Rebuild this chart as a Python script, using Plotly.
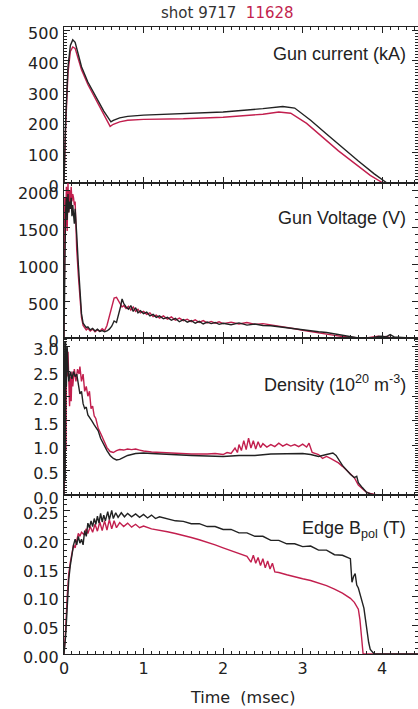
import plotly.graph_objects as go

# ---------------- data ----------------
cur_t_9717 = [0, 0.02, 0.05, 0.08, 0.11, 0.14, 0.18, 0.22, 0.3, 0.4, 0.5, 0.59, 0.62, 0.7, 0.8, 1.0, 1.5, 2.0, 2.5, 2.75, 2.9, 3.1, 3.3, 3.5, 3.7, 3.9, 4.06, 4.45]
cur_v_9717 = [0, 200, 380, 450, 468, 460, 420, 380, 330, 280, 235, 200, 205, 213, 218, 222, 226, 232, 243, 250, 245, 205, 160, 115, 72, 30, 0, 0]
cur_t_11628 = [0, 0.02, 0.05, 0.08, 0.11, 0.14, 0.18, 0.22, 0.3, 0.4, 0.5, 0.58, 0.62, 0.7, 0.8, 1.0, 1.5, 2.0, 2.5, 2.7, 2.85, 3.05, 3.25, 3.45, 3.65, 3.85, 4.01, 4.45]
cur_v_11628 = [0, 180, 360, 430, 445, 440, 405, 370, 322, 272, 225, 185, 192, 200, 205, 208, 210, 215, 225, 232, 228, 195, 150, 105, 65, 25, 0, 0]

vol_t = [0, 0.005, 0.01, 0.02, 0.03, 0.04, 0.05, 0.06, 0.07, 0.08, 0.09, 0.1, 0.11, 0.12, 0.13, 0.14, 0.15, 0.16, 0.18, 0.2,
         0.22, 0.24, 0.26, 0.28, 0.3, 0.33, 0.36, 0.39, 0.42, 0.45, 0.48, 0.51, 0.54, 0.57, 0.6, 0.63, 0.66, 0.69, 0.71, 0.73,
         0.75, 0.78, 0.81, 0.84, 0.87, 0.9, 0.93, 0.96, 1.0, 1.04, 1.08, 1.12, 1.16, 1.2, 1.25, 1.3, 1.35, 1.4, 1.45, 1.5,
         1.55, 1.6, 1.65, 1.7, 1.75, 1.8, 1.85, 1.9, 1.95, 2.0, 2.1, 2.2, 2.3, 2.4, 2.5, 2.6, 2.7, 2.8, 2.9, 3.0,
         3.1, 3.2, 3.3, 3.4, 3.5, 3.6, 3.65, 3.7, 3.8, 3.9, 3.95, 4.0, 4.05, 4.1, 4.15, 4.2, 4.3, 4.45]
vol_9717 = [0, 650, 1200, 1700, 1900, 1600, 1950, 1700, 1850, 1750, 1900, 1650, 1800, 1700, 1550, 1750, 1600, 1400, 1000, 600,
            330, 200, 160, 140, 150, 110, 130, 95, 120, 90, 100, 85, 95, 120, 160, 230, 210, 320, 420, 530,
            470, 420, 390, 440, 360, 410, 340, 370, 330, 350, 300, 320, 280, 300, 260, 280, 240, 265, 220, 250,
            215, 235, 200, 225, 190, 215, 195, 210, 185, 200, 180, 205, 175, 190, 170, 165, 150, 135, 120, 110,
            100, 85, 75, 55, 40, 20, 8, 0, 0, 5, 20, 25, 15, 45, 15, 10, 5, 0]
vol_11628 = [0, 1400, 1900, 1500, 2050, 1450, 2100, 1700, 2000, 1800, 2050, 1850, 1950, 1900, 1800, 1850, 1500, 1200, 850, 500,
             280, 170, 140, 110, 130, 95, 120, 85, 110, 90, 125, 100, 170, 300, 430, 540, 550, 500, 460, 420,
             440, 400, 430, 380, 420, 360, 390, 340, 360, 320, 340, 290, 310, 270, 300, 255, 285, 240, 270, 235,
             255, 220, 245, 210, 235, 205, 225, 200, 220, 195, 215, 190, 210, 185, 195, 175, 160, 145, 125, 105,
             85, 70, 55, 35, 20, 5, 0, 0, 0, 10, 25, 15, 20, 5, 0, 0, 0, 0]

den_t_9717 = [0, 0.01, 0.015, 0.02, 0.03, 0.04, 0.05, 0.06, 0.08, 0.1, 0.12, 0.14, 0.16, 0.18, 0.2, 0.22, 0.24, 0.26, 0.28, 0.3,
              0.32, 0.35, 0.38, 0.4, 0.43, 0.46, 0.5, 0.54, 0.58, 0.62, 0.66, 0.7, 0.75, 0.8, 0.9, 1.0, 1.1, 1.2, 1.4, 1.6,
              1.8, 2.0, 2.2, 2.4, 2.6, 2.8, 3.0, 3.1, 3.2, 3.3, 3.38, 3.42, 3.5, 3.6, 3.65, 3.68, 3.7, 3.75, 3.8, 3.85, 3.9, 4.45]
den_v_9717 = [0, 3.1, 0.3, 3.1, 2.2, 3.0, 2.6, 2.3, 2.5, 2.35, 2.5, 2.4, 2.45, 2.2, 2.05, 2.1, 1.85, 1.75, 1.78, 1.62,
              1.58, 1.5, 1.42, 1.38, 1.3, 1.15, 1.02, 0.9, 0.8, 0.74, 0.71, 0.72, 0.76, 0.8, 0.84, 0.85, 0.84, 0.83, 0.81, 0.8,
              0.79, 0.78, 0.8, 0.8, 0.83, 0.84, 0.84, 0.82, 0.78, 0.82, 0.85, 0.8, 0.6, 0.42, 0.35, 0.38, 0.25, 0.15, 0.06, 0.02, 0, 0]
den_t_11628 = [0, 0.01, 0.02, 0.025, 0.03, 0.04, 0.05, 0.06, 0.07, 0.08, 0.09, 0.1, 0.11, 0.13, 0.15, 0.17, 0.19, 0.2, 0.22, 0.24,
               0.26, 0.28, 0.3, 0.32, 0.34, 0.36, 0.38, 0.4, 0.43, 0.46, 0.5, 0.54, 0.58, 0.62, 0.66, 0.7, 0.75, 0.8, 0.85, 0.9,
               0.95, 1.0, 1.1, 1.2, 1.4, 1.6, 1.8, 1.9, 2.0, 2.05, 2.1, 2.15, 2.18, 2.2, 2.23, 2.26, 2.29, 2.32, 2.35, 2.38,
               2.41, 2.44, 2.47, 2.5, 2.55, 2.6, 2.65, 2.7, 2.75, 2.8, 2.85, 2.9, 2.95, 3.0, 3.05, 3.08, 3.12, 3.2, 3.25, 3.3,
               3.35, 3.4, 3.45, 3.5, 3.55, 3.6, 3.65, 3.7, 3.75, 3.8, 3.85, 3.94, 4.45]
den_v_11628 = [0, 0.5, 1.6, 0.9, 2.7, 2.4, 2.9, 2.2, 1.8, 2.4, 1.9, 2.5, 2.2, 2.55, 2.3, 2.55, 2.45, 2.6, 2.3, 2.45,
               2.1, 2.2, 2.0, 2.1, 1.75, 1.8, 1.6, 1.55, 1.35, 1.25, 1.1, 0.96, 0.88, 0.86, 0.9, 0.92, 0.91, 0.93, 0.92, 0.93,
               0.91, 0.89, 0.87, 0.86, 0.84, 0.83, 0.83, 0.84, 0.82, 0.86, 0.84, 0.95, 0.86, 1.02, 0.9, 1.1, 0.92, 1.15, 0.95, 1.1,
               0.93, 1.08, 0.96, 1.04, 0.97, 1.02, 0.98, 1.05, 0.99, 1.03, 0.99, 1.02, 0.98, 1.03, 0.97, 1.05, 0.86, 0.82, 0.74, 0.78,
               0.74, 0.7, 0.65, 0.58, 0.5, 0.42, 0.35, 0.2, 0.12, 0.06, 0.03, 0, 0]

bp_t_9717 = [0, 0.02, 0.04, 0.06, 0.08, 0.1, 0.12, 0.14, 0.16, 0.18, 0.2, 0.22, 0.24, 0.26, 0.28, 0.3, 0.32, 0.34, 0.36, 0.38,
             0.4, 0.42, 0.44, 0.46, 0.48, 0.5, 0.52, 0.55, 0.57, 0.6, 0.62, 0.65, 0.68, 0.72, 0.76, 0.8, 0.85, 0.9, 0.95, 1.0,
             1.05, 1.1, 1.15, 1.2, 1.3, 1.4, 1.5, 1.6, 1.7, 1.8, 1.9, 2.0, 2.1, 2.2, 2.3, 2.4, 2.5, 2.6, 2.7, 2.8,
             2.9, 3.0, 3.1, 3.2, 3.3, 3.4, 3.5, 3.58, 3.6, 3.62, 3.64, 3.66, 3.68, 3.7, 3.72, 3.75, 3.77, 3.79, 3.81, 3.83,
             3.85, 3.9, 4.45]
bp_v_9717 = [0, 0.03, 0.08, 0.13, 0.155, 0.175, 0.19, 0.2, 0.19, 0.205, 0.193, 0.2, 0.19, 0.215, 0.205, 0.228, 0.22, 0.232, 0.222, 0.236,
             0.226, 0.24, 0.228, 0.245, 0.23, 0.242, 0.232, 0.248, 0.234, 0.25, 0.236, 0.246, 0.238, 0.246, 0.239, 0.245, 0.239, 0.244, 0.238, 0.243,
             0.237, 0.242, 0.236, 0.239, 0.236, 0.232, 0.231, 0.227, 0.227, 0.222, 0.222, 0.217, 0.217, 0.211, 0.211, 0.205, 0.205, 0.198, 0.198, 0.192,
             0.192, 0.187, 0.188, 0.181, 0.181, 0.173, 0.172, 0.167, 0.166, 0.125, 0.135, 0.14, 0.12, 0.115, 0.105, 0.09, 0.08, 0.06, 0.035, 0.02,
             0.008, 0, 0]
bp_t_11628 = [0, 0.02, 0.04, 0.06, 0.08, 0.1, 0.12, 0.14, 0.16, 0.18, 0.2, 0.22, 0.25, 0.28, 0.3, 0.33, 0.36, 0.39, 0.42, 0.45,
              0.48, 0.51, 0.54, 0.57, 0.6, 0.63, 0.66, 0.7, 0.75, 0.8, 0.85, 0.9, 0.95, 1.0, 1.1, 1.2, 1.3, 1.4, 1.5, 1.6,
              1.7, 1.8, 1.9, 2.0, 2.1, 2.2, 2.3, 2.35, 2.38, 2.41, 2.44, 2.47, 2.5, 2.53, 2.56, 2.59, 2.62, 2.65, 2.7, 2.8,
              2.9, 3.0, 3.1, 3.2, 3.3, 3.4, 3.5, 3.6, 3.65, 3.7, 3.72, 3.74, 3.76, 4.45]
bp_v_11628 = [0, 0.04, 0.1, 0.14, 0.16, 0.175, 0.19, 0.185, 0.2, 0.21, 0.205, 0.212, 0.208, 0.218, 0.21, 0.222, 0.212, 0.226, 0.214, 0.23,
              0.215, 0.232, 0.216, 0.234, 0.218, 0.232, 0.22, 0.229, 0.222, 0.228, 0.221, 0.226, 0.22, 0.223, 0.218, 0.216, 0.213, 0.21, 0.207, 0.203,
              0.199, 0.195, 0.19, 0.185, 0.18, 0.174, 0.17, 0.16, 0.172, 0.158, 0.168, 0.154, 0.166, 0.15, 0.162, 0.148, 0.158, 0.143, 0.142, 0.138,
              0.134, 0.131, 0.128, 0.124, 0.119, 0.113, 0.106, 0.097, 0.09, 0.078, 0.06, 0.03, 0, 0]

panel_labels = ["Gun current (kA)", "Gun Voltage (V)", "Density (10<sup>20</sup> m<sup>-3</sup>)", "Edge B<sub>pol</sub> (T)"]
x_ticks = [0, 1, 2, 3, 4]

# ---------------- style ----------------
BLACK = "#222222"
RED = "#c21f4e"
TICKFONT = dict(family="DejaVu Sans", size=16, color="#222222")
LABELFONT = dict(family="Liberation Sans, Arial, sans-serif", size=18, color="#222222")

fig = go.Figure()

series = [
    (cur_t_9717, cur_v_9717, cur_t_11628, cur_v_11628),
    (vol_t, vol_9717, vol_t, vol_11628),
    (den_t_9717, den_v_9717, den_t_11628, den_v_11628),
    (bp_t_9717, bp_v_9717, bp_t_11628, bp_v_11628),
]
for i, (tb, vb, tr, vr) in enumerate(series):
    xa = "x" if i == 0 else f"x{i+1}"
    ya = "y" if i == 0 else f"y{i+1}"
    fig.add_trace(go.Scatter(x=tr, y=vr, mode="lines", line=dict(color=RED, width=1.4), xaxis=xa, yaxis=ya, showlegend=False))
    fig.add_trace(go.Scatter(x=tb, y=vb, mode="lines", line=dict(color=BLACK, width=1.4), xaxis=xa, yaxis=ya, showlegend=False))

domains = [[0.7512, 1.0], [0.504, 0.7512], [0.2536, 0.504], [0.0, 0.2536]]
yranges = [[0, 510], [0, 2100], [0, 3.18], [0, 0.277]]
ydticks = [100, 500, 0.5, 0.05]
yminor = [10, 100, 0.05, 0.01]
yfmt = ["d", "d", ".1f", ".2f"]

layout = dict(
    width=418, height=709,
    margin=dict(l=64, r=0, t=27, b=55, autoexpand=False),
    paper_bgcolor="white", plot_bgcolor="white",
)
for i in range(4):
    xk = "xaxis" if i == 0 else f"xaxis{i+1}"
    yk = "yaxis" if i == 0 else f"yaxis{i+1}"
    ya = "y" if i == 0 else f"y{i+1}"
    xa = "x" if i == 0 else f"x{i+1}"
    layout[xk] = dict(
        domain=[0, 1], anchor=ya, range=[0, 4.45], tickvals=x_ticks,
        showticklabels=(i == 3), ticks="inside", ticklen=6, tickwidth=1.2, tickcolor="#222",
        minor=dict(dtick=0.1, ticks="inside", ticklen=3, tickwidth=1, tickcolor="#222"),
        showline=True, linecolor="#222", linewidth=1.3, mirror="ticks",
        showgrid=False, zeroline=False, tickfont=TICKFONT, automargin=False,
    )
    layout[yk] = dict(
        domain=domains[i], anchor=xa, range=yranges[i], dtick=ydticks[i], tick0=0,
        tickformat=yfmt[i], ticks="inside", ticklen=6, tickwidth=1.2, tickcolor="#222",
        minor=dict(dtick=yminor[i], ticks="inside", ticklen=3, tickwidth=1, tickcolor="#222"),
        showline=True, linecolor="#222", linewidth=1.3, mirror="ticks",
        showgrid=False, zeroline=False, tickfont=TICKFONT, ticklabelstandoff=1,
        ticklabelshift=3, automargin=False,
    )
fig.update_layout(**layout)

label_y = [0.957, 0.695, 0.432, 0.198]
for i, txt in enumerate(panel_labels):
    fig.add_annotation(text=txt, xref="paper", yref="paper", x=0.972, y=label_y[i],
                       xanchor="right", yanchor="middle", showarrow=False, font=LABELFONT)

fig.add_annotation(text=f"shot 9717 &nbsp;<span style='color:{RED}'>11628</span>", xref="paper", yref="paper",
                   x=0.462, y=1.022, xanchor="center", yanchor="middle", showarrow=False,
                   font=dict(family="DejaVu Sans", size=15, color="#333333"))
fig.add_annotation(text="Time  (msec)", xref="paper", yref="paper", x=0.503, y=-0.070,
                   xanchor="center", yanchor="middle", showarrow=False,
                   font=dict(family="DejaVu Sans", size=16, color="#222222"))

fig.write_html("out.html", config={"displayModeBar": False},
               post_script="document.body.style.margin='0';document.body.style.overflow='hidden';")
